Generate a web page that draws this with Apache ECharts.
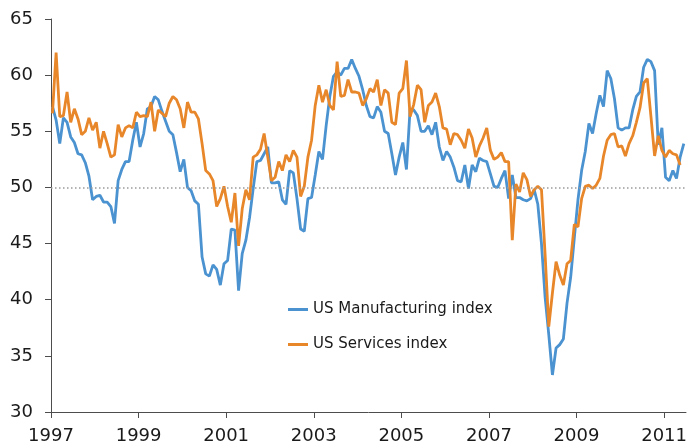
<!DOCTYPE html>
<html><head><meta charset="utf-8">
<script src="https://cdn.jsdelivr.net/npm/echarts@6/dist/echarts.min.js"></script>
<style>html,body{margin:0;padding:0;background:#fff}#c{width:690px;height:445px}</style>
</head><body><div id="c"></div>
<script>
const startYear = 1997;
const yearTicks = [1997, 1999, 2001, 2003, 2005, 2007, 2009, 2011];
const refLevel = 50;
const seriesNames = ['US Manufacturing index', 'US Services index'];

const manufacturing = [
  57.2, 56.0, 53.9, 56.2, 55.8, 54.5, 54.0, 53.0, 52.9, 52.2, 51.0, 48.9,
  49.2, 49.3, 48.7, 48.7, 48.3, 46.8, 50.6, 51.6, 52.3, 52.3, 54.2, 55.8,
  53.6, 54.8, 57.0, 57.2, 58.1, 57.8, 56.8, 55.9, 55.0, 54.7, 53.1, 51.4,
  52.5, 50.0, 49.7, 48.8, 48.5, 43.8, 42.3, 42.1, 43.1, 42.7, 41.3, 43.2,
  43.5, 46.3, 46.2, 40.8, 44.1, 45.3, 47.3, 49.9, 52.3, 52.4, 53.0, 53.6,
  50.4, 50.4, 50.5, 48.9, 48.5, 51.5, 51.3, 49.0, 46.3, 46.1, 49.0, 49.1,
  51.1, 53.2, 52.5, 55.5, 58.1, 59.9, 60.3, 60.0, 60.6, 60.6, 61.4, 60.6,
  59.9, 58.7, 57.3, 56.3, 56.2, 57.2, 56.7, 55.0, 54.8, 53.0, 51.1, 52.7,
  54.0, 51.6, 57.0, 56.9, 56.4, 55.0, 55.0, 55.5, 54.7, 55.8, 53.6, 52.4,
  53.2, 52.7, 51.8, 50.6, 50.5, 52.0, 49.9, 52.0, 51.4, 52.6, 52.4, 52.3,
  51.2, 50.1, 50.0, 50.8, 51.5, 49.0, 51.1, 49.1, 49.1, 48.9, 48.8, 49.0,
  49.8, 48.5, 45.0, 40.2, 36.9, 33.3, 35.7, 36.0, 36.5, 39.7, 42.0, 45.5,
  48.9, 51.5, 53.2, 55.7, 54.8, 56.6, 58.2, 57.2, 60.4, 59.7, 57.9, 55.3,
  55.1, 55.3, 55.3, 56.9, 58.1, 58.5, 60.7, 61.4, 61.2, 60.4, 53.8, 55.3,
  50.9, 50.6, 51.5, 50.8, 52.7, 53.9
];

const services = [
  56.6, 62.0, 56.3, 56.4, 58.5, 55.8, 57.0, 56.1, 54.7, 55.0, 56.2, 55.1,
  55.8, 53.5, 55.0, 53.9, 52.7, 52.9, 55.6, 54.5, 55.3, 55.5, 55.3, 56.7,
  56.3, 56.4, 56.3, 57.6, 55.0, 56.9, 56.6, 56.3, 57.5, 58.1, 57.8, 57.0,
  55.3, 57.6, 56.7, 56.7, 56.1, 53.9, 51.5, 51.2, 50.6, 48.3, 49.0, 50.1,
  48.3, 46.9, 49.5, 44.8, 48.1, 49.8, 48.9, 52.7, 52.9, 53.4, 54.8, 52.7,
  50.6, 50.9, 52.3, 51.5, 52.9, 52.3, 53.3, 52.7, 49.2, 50.1, 52.7, 54.2,
  57.3, 59.1, 57.6, 58.7, 57.3, 56.9, 61.2, 58.1, 58.2, 59.6, 58.5, 58.5,
  58.4, 57.3, 57.9, 58.8, 58.5, 59.6, 57.3, 58.7, 58.4, 55.8, 55.6, 58.4,
  58.8, 61.3, 56.3, 57.4, 59.1, 58.7, 55.8, 57.3, 57.6, 58.4, 57.2, 55.3,
  55.2, 53.8, 54.8, 54.7, 54.2, 53.5, 55.2, 54.4, 52.7, 53.7, 54.4, 55.3,
  53.3, 52.5, 52.7, 53.1, 52.3, 52.3, 45.3, 50.3, 49.6, 51.3, 50.7, 49.2,
  49.8, 50.1, 49.8, 44.0, 37.6, 40.6, 43.4, 42.2, 41.3, 43.2, 43.5, 46.7,
  46.5, 49.0, 50.1, 50.2, 49.9, 50.2, 50.8, 52.8, 54.2, 54.7, 54.8, 53.6,
  53.7, 52.8, 53.9, 54.6, 55.8, 57.1, 59.3, 59.7, 56.3, 52.8, 54.6, 53.3,
  52.7, 53.3, 53.0, 52.9, 52.0
];

// months since Jan 1997; each monthly value is placed inside its month
const toPoints = arr => arr.map((v, i) => [i + 0.4, v]);
const tickPos = yearTicks.map(y => (y - startYear) * 12);
const FONT = 'Verdana, "DejaVu Sans", sans-serif';
const BLUE = '#4a92d0';
const ORANGE = '#e8862a';

const chart = echarts.init(document.getElementById('c'), null, {renderer: 'canvas'});
chart.setOption({
  animation: false,
  backgroundColor: '#ffffff',
  grid: {left: 51, right: 1, top: 19, bottom: 33, containLabel: false},
  legend: {
    orient: 'vertical', left: 288, top: 302, padding: 0,
    itemWidth: 20, itemHeight: 3, itemGap: 20,
    icon: 'rect',
    data: seriesNames,
    textStyle: {fontSize: 15, color: '#1a1a1a', fontFamily: FONT}
  },
  xAxis: {
    type: 'value', min: 0, max: 174, interval: 24,
    splitLine: {show: false},
    axisLine: {show: true, lineStyle: {color: '#4d4d4d', width: 1}},
    axisTick: {show: true, length: 6, customValues: tickPos, lineStyle: {color: '#4d4d4d'}},
    axisLabel: {
      customValues: tickPos, fontSize: 18, color: '#1a1a1a', fontFamily: FONT, margin: 15,
      formatter: v => String(startYear + Math.round(v / 12))
    }
  },
  yAxis: {
    type: 'value', min: 30, max: 65, interval: 5,
    splitLine: {show: false},
    axisLine: {show: true, lineStyle: {color: '#4d4d4d', width: 1}},
    axisTick: {show: true, length: 6, lineStyle: {color: '#4d4d4d'}},
    axisLabel: {fontSize: 18, color: '#1a1a1a', fontFamily: FONT, margin: 18}
  },
  series: [
    {
      type: 'line', data: [], z: 1, silent: true,
      markLine: {
        silent: true, symbol: ['none', 'none'], label: {show: false},
        lineStyle: {type: [1.5, 2.5], color: '#9a9a9a', width: 1.5},
        data: [{yAxis: refLevel}]
      }
    },
    {
      name: seriesNames[0], type: 'line', data: toPoints(manufacturing),
      symbol: 'none', z: 2,
      lineStyle: {color: BLUE, width: 2.8}, itemStyle: {color: BLUE}
    },
    {
      name: seriesNames[1], type: 'line', data: toPoints(services),
      symbol: 'none', z: 3,
      lineStyle: {color: ORANGE, width: 2.8}, itemStyle: {color: ORANGE}
    }
  ]
});
</script>
</body></html>
